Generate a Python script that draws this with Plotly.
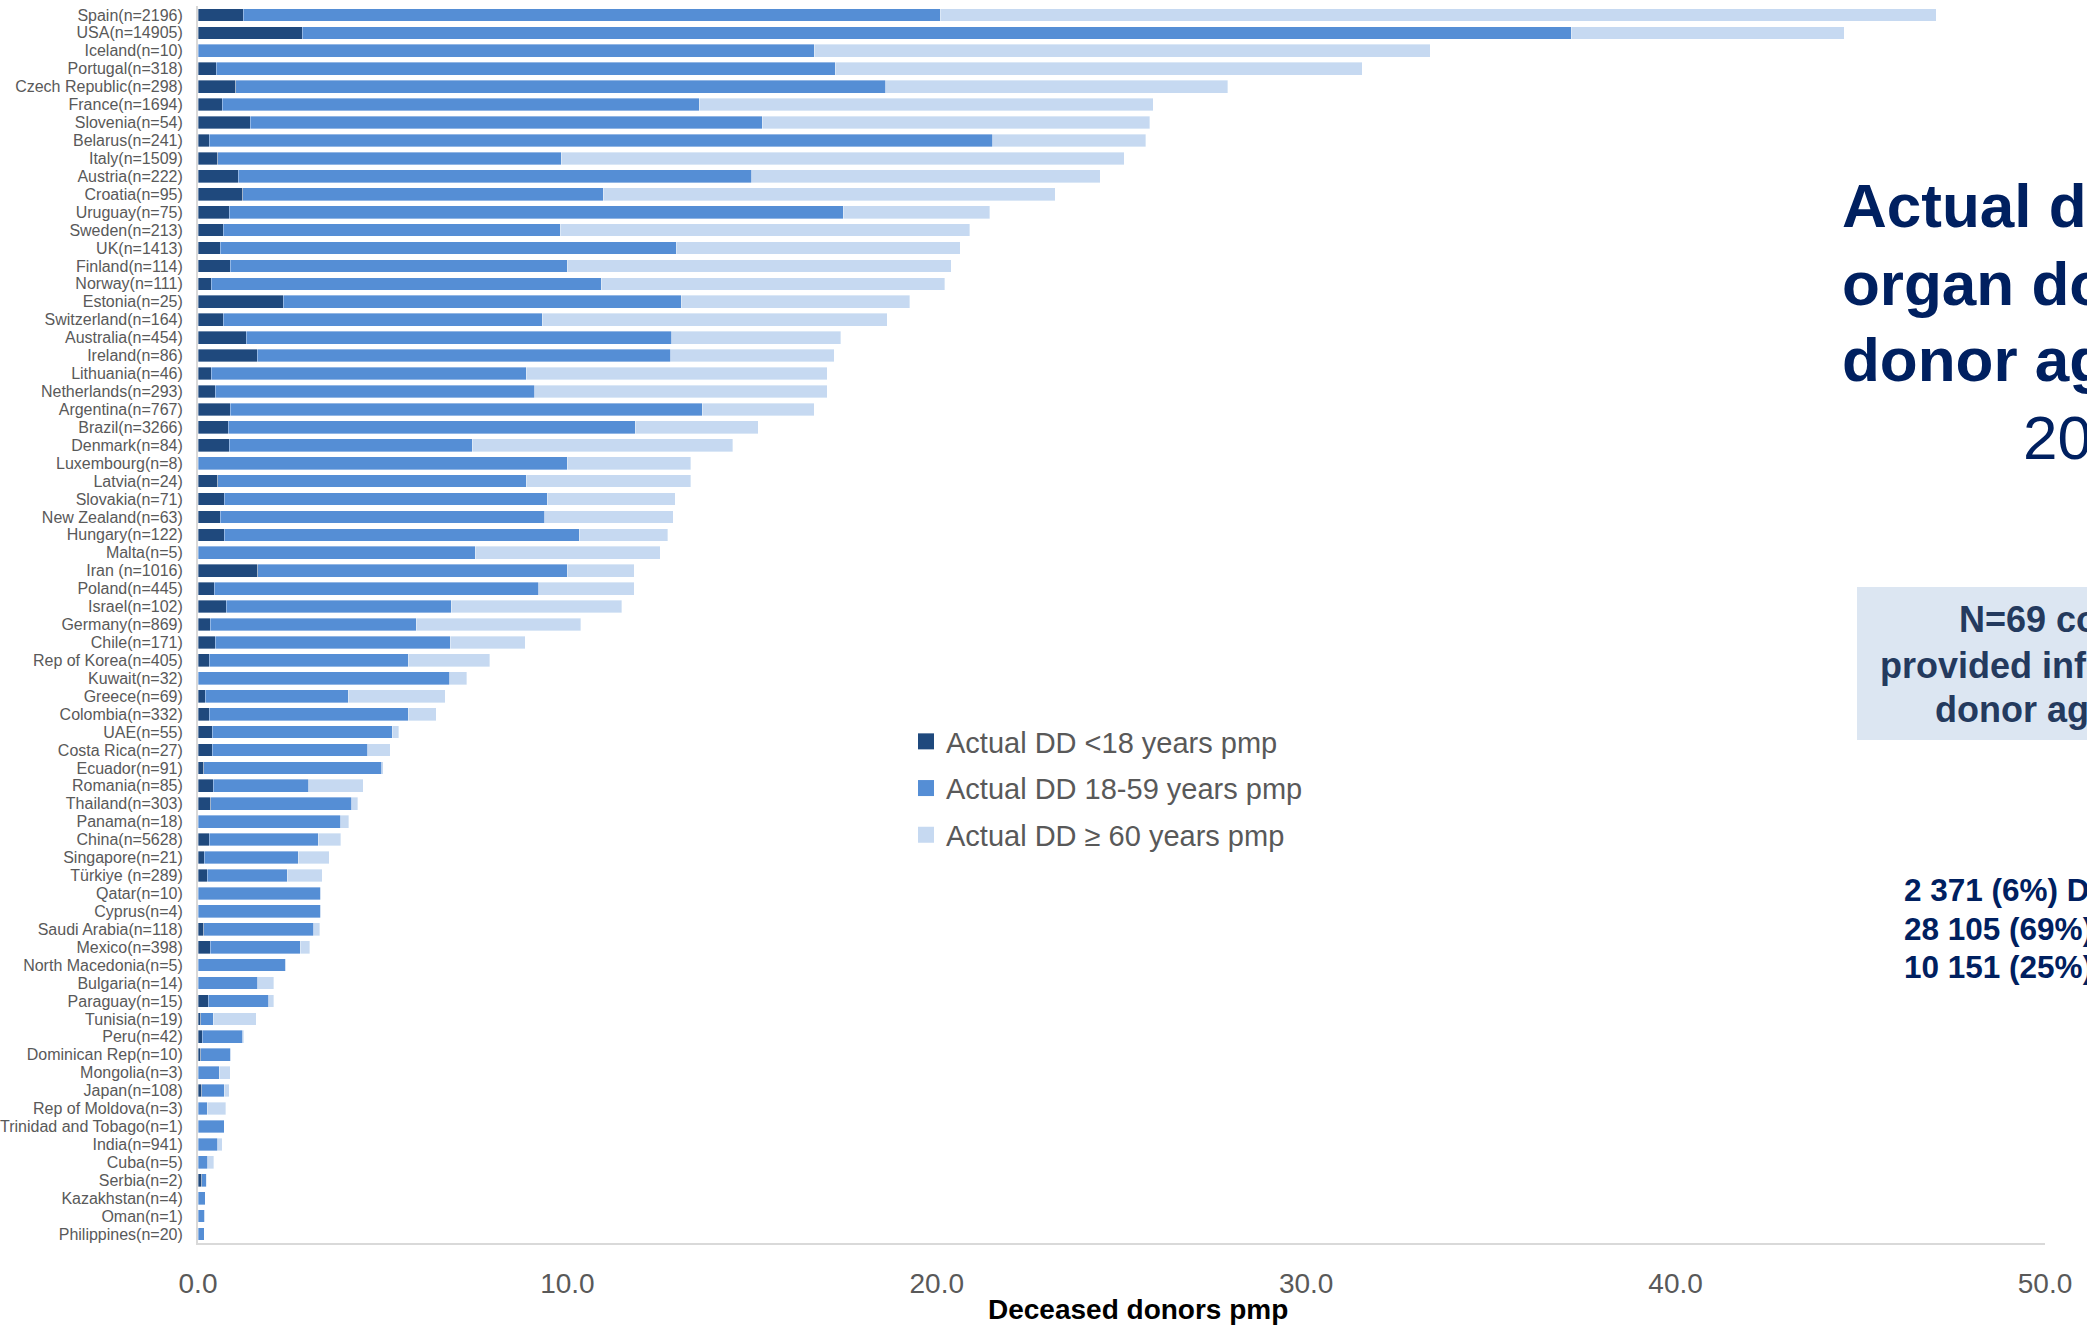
import plotly.graph_objects as go

countries = ["Spain(n=2196)", "USA(n=14905)", "Iceland(n=10)", "Portugal(n=318)", "Czech Republic(n=298)",
             "France(n=1694)", "Slovenia(n=54)", "Belarus(n=241)", "Italy(n=1509)", "Austria(n=222)",
             "Croatia(n=95)", "Uruguay(n=75)", "Sweden(n=213)", "UK(n=1413)", "Finland(n=114)",
             "Norway(n=111)", "Estonia(n=25)", "Switzerland(n=164)", "Australia(n=454)", "Ireland(n=86)",
             "Lithuania(n=46)", "Netherlands(n=293)", "Argentina(n=767)", "Brazil(n=3266)", "Denmark(n=84)",
             "Luxembourg(n=8)", "Latvia(n=24)", "Slovakia(n=71)", "New Zealand(n=63)", "Hungary(n=122)",
             "Malta(n=5)", "Iran (n=1016)", "Poland(n=445)", "Israel(n=102)", "Germany(n=869)",
             "Chile(n=171)", "Rep of Korea(n=405)", "Kuwait(n=32)", "Greece(n=69)", "Colombia(n=332)",
             "UAE(n=55)", "Costa Rica(n=27)", "Ecuador(n=91)", "Romania(n=85)", "Thailand(n=303)",
             "Panama(n=18)", "China(n=5628)", "Singapore(n=21)", "Türkiye (n=289)", "Qatar(n=10)",
             "Cyprus(n=4)", "Saudi Arabia(n=118)", "Mexico(n=398)", "North Macedonia(n=5)", "Bulgaria(n=14)",
             "Paraguay(n=15)", "Tunisia(n=19)", "Peru(n=42)", "Dominican Rep(n=10)", "Mongolia(n=3)",
             "Japan(n=108)", "Rep of Moldova(n=3)", "Trinidad and Tobago(n=1)", "India(n=941)", "Cuba(n=5)",
             "Serbia(n=2)", "Kazakhstan(n=4)", "Oman(n=1)", "Philippines(n=20)"]

dd_under18 = [1.23, 2.82, 0.00, 0.50, 1.02, 0.65, 1.41, 0.30, 0.54, 1.09,
              1.21, 0.85, 0.69, 0.60, 0.87, 0.36, 2.31, 0.69, 1.31, 1.61,
              0.36, 0.47, 0.87, 0.82, 0.85, 0.00, 0.54, 0.71, 0.60, 0.71,
              0.00, 1.62, 0.44, 0.77, 0.33, 0.47, 0.31, 0.00, 0.19, 0.30,
              0.39, 0.39, 0.16, 0.41, 0.34, 0.00, 0.30, 0.17, 0.25, 0.00,
              0.00, 0.16, 0.33, 0.00, 0.00, 0.28, 0.07, 0.11, 0.07, 0.00,
              0.10, 0.00, 0.00, 0.00, 0.00, 0.10, 0.00, 0.00, 0.00]

dd_18_59 = [18.87, 34.36, 16.68, 16.75, 17.60, 12.92, 13.86, 21.21, 9.30, 13.90,
            9.76, 16.62, 9.11, 12.35, 9.12, 10.55, 10.77, 8.63, 11.52, 11.19,
            8.52, 8.65, 12.78, 11.01, 6.57, 9.99, 8.34, 8.74, 8.79, 9.61,
            7.50, 8.37, 8.79, 6.08, 5.58, 6.36, 5.38, 6.82, 3.88, 5.39,
            4.87, 4.21, 4.82, 2.59, 3.82, 3.87, 2.95, 2.54, 2.17, 3.32,
            3.32, 2.98, 2.44, 2.38, 1.62, 1.63, 0.34, 1.10, 0.82, 0.58,
            0.61, 0.25, 0.71, 0.54, 0.27, 0.12, 0.19, 0.18, 0.17]

dd_60plus = [26.95, 7.38, 16.68, 14.27, 9.26, 12.29, 10.49, 4.14, 15.23, 9.43,
             12.23, 3.96, 11.09, 7.69, 10.40, 9.30, 6.19, 9.34, 4.57, 4.42,
             8.16, 7.92, 3.03, 3.34, 7.06, 3.35, 4.46, 3.47, 3.48, 2.39,
             5.01, 1.82, 2.58, 4.62, 4.45, 2.03, 2.21, 0.45, 2.62, 0.76,
             0.18, 0.60, 0.04, 1.47, 0.17, 0.21, 0.62, 0.84, 0.95, 0.00,
             0.00, 0.16, 0.25, 0.00, 0.43, 0.14, 1.16, 0.03, 0.00, 0.29,
             0.14, 0.50, 0.00, 0.11, 0.15, 0.02, 0.00, 0.00, 0.00]

series_names = ["Actual DD <18 years pmp", "Actual DD 18-59 years pmp", "Actual DD ≥ 60 years pmp"]
series_colors = ["#1f497d", "#558ed5", "#c6d9f1"]
x_ticks = [0, 10, 20, 30, 40, 50]

W, H = 2087, 1325
ML, MR, MT, MB = 198, 42, 6, 82
PW, PH = W - ML - MR, H - MT - MB


def px(x):
    return (x - ML) / PW


def py(y):
    return (H - MB - y) / PH


FONT = "Arial, Liberation Sans, sans-serif"

fig = go.Figure()
for i, (name, vals, col) in enumerate(zip(series_names, [dd_under18, dd_18_59, dd_60plus], series_colors)):
    fig.add_trace(go.Bar(
        y=countries, x=vals, name=name, orientation="h",
        marker=dict(color=col, line=dict(color="rgba(255,255,255,0.6)", width=0.6)),
        legendgroup=f"g{i}", showlegend=False,
    ))
# legend entries (square swatches)
for i, (name, col) in enumerate(zip(series_names, series_colors)):
    fig.add_trace(go.Scatter(
        x=[None], y=[None], mode="markers", name=name,
        marker=dict(symbol="square", size=16, color=col),
        legendgroup=f"g{i}", showlegend=True,
    ))

fig.update_layout(
    width=W, height=H,
    margin=dict(l=ML, r=MR, t=MT, b=MB, pad=0, autoexpand=False),
    barmode="stack", bargap=0.29,
    plot_bgcolor="white", paper_bgcolor="white",
    font=dict(family=FONT, color="#595959"),
    showlegend=True,
    legend=dict(
        x=px(906), y=py(716), xanchor="left", yanchor="top",
        font=dict(size=29, color="#595959", family=FONT),
        traceorder="grouped", tracegroupgap=6,
        bgcolor="rgba(0,0,0,0)",
    ),
    xaxis=dict(
        range=[0, 50], tickvals=x_ticks, ticktext=[f"{v:.1f}" for v in x_ticks],
        tickfont=dict(size=28, color="#595959", family=FONT),
        showgrid=False, zeroline=False,
        showline=True, linecolor="#d9d9d9", linewidth=2,
        ticks="outside", ticklen=14, tickcolor="rgba(0,0,0,0)",
        automargin=False,
    ),
    yaxis=dict(
        categoryorder="array", categoryarray=countries, autorange="reversed",
        tickmode="array", tickvals=countries, ticktext=countries,
        tickfont=dict(size=16, color="#595959", family=FONT),
        showgrid=False, zeroline=False,
        showline=True, linecolor="#d9d9d9", linewidth=2,
        ticks="outside", ticklen=10, tickcolor="rgba(0,0,0,0)",
        automargin=False,
    ),
)

ann = []
ann.append(dict(text="<b>Deceased donors pmp</b>", x=px(1138), y=py(1309), xanchor="center", yanchor="middle",
                font=dict(size=28, color="#000000", family=FONT)))
title_lines = ["<b>Actual deceased</b>", "<b>organ donors by</b>", "<b>donor age group</b>"]
for line, yc in zip(title_lines, [206, 283, 359]):
    ann.append(dict(text=line, x=px(1840), y=py(yc), xanchor="left", yanchor="middle",
                    font=dict(size=62, color="#002060", family=FONT)))
ann.append(dict(text="2022", x=px(2021), y=py(437), xanchor="left", yanchor="middle",
                font=dict(size=62, color="#002060", family=FONT)))
box_lines = [("<b>N=69 countries</b>", 1957, 619), ("<b>provided information on</b>", 1878, 665),
             ("<b>donor age in 2022</b>", 1933, 709)]
for line, xl, yc in box_lines:
    ann.append(dict(text=line, x=px(xl), y=py(yc), xanchor="left", yanchor="middle",
                    font=dict(size=36, color="#243a5e", family=FONT)))
stat_lines = [("<b>2 371 (6%) DD &lt;18 years</b>", 890), ("<b>28 105 (69%) DD 18-59 years</b>", 929),
              ("<b>10 151 (25%) DD ≥ 60 years</b>", 967)]
for line, yc in stat_lines:
    ann.append(dict(text=line, x=px(1902), y=py(yc), xanchor="left", yanchor="middle",
                    font=dict(size=31.5, color="#002060", family=FONT)))
for a in ann:
    a.update(xref="paper", yref="paper", showarrow=False)
fig.update_layout(annotations=ann)

fig.add_shape(type="rect", xref="paper", yref="paper", x0=px(1857), x1=px(2200), y0=py(740), y1=py(587),
              fillcolor="#dce6f2", line=dict(width=0), layer="below")

fig.write_html("out.html", config={"displayModeBar": False},
               post_script="document.body.style.margin='0';document.body.style.overflow='hidden';")
